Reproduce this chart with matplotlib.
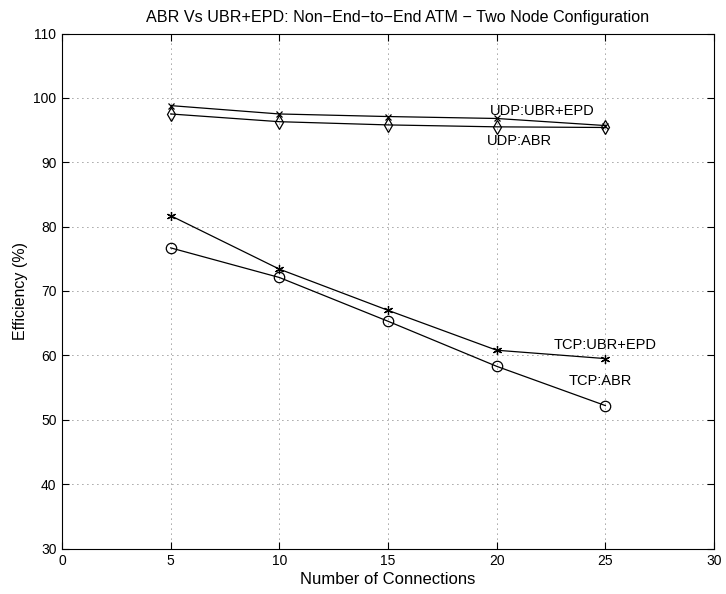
import matplotlib
matplotlib.use("Agg")
import matplotlib.pyplot as plt

plt.rcParams['font.family'] = ['Liberation Sans', 'DejaVu Sans']

connections = [5, 10, 15, 20, 25]
udp_ubr_epd = [98.8, 97.5, 97.1, 96.8, 95.7]
udp_abr = [97.5, 96.3, 95.8, 95.5, 95.4]
tcp_ubr_epd = [81.7, 73.4, 67.0, 60.8, 59.5]
tcp_abr = [76.7, 72.1, 65.3, 58.3, 52.2]

x_ticks = [0, 5, 10, 15, 20, 25, 30]
y_ticks = [30, 40, 50, 60, 70, 80, 90, 100, 110]

fig = plt.figure(figsize=(7.26, 5.94), dpi=100)
ax = fig.add_axes([62 / 726, 45.5 / 594, 652 / 726, 515 / 594])

line_kw = dict(color='black', linewidth=0.9, markerfacecolor='none',
               markeredgecolor='black', markeredgewidth=0.9)
ax.plot(connections, udp_ubr_epd, marker='x', markersize=5, **line_kw)
ax.plot(connections, udp_abr, marker='d', markersize=7.5, **line_kw)
ax.plot(connections, tcp_ubr_epd, marker=(6, 2, 0), markersize=6.5, **line_kw)
ax.plot(connections, tcp_abr, marker='o', markersize=7.5, **line_kw)

fs = 10.5
ax.text(19.7, 97.9, 'UDP:UBR+EPD', fontsize=fs, va='center', ha='left')
ax.text(19.55, 93.3, 'UDP:ABR', fontsize=fs, va='center', ha='left')
ax.text(22.6, 61.6, 'TCP:UBR+EPD', fontsize=fs, va='center', ha='left')
ax.text(23.3, 56.0, 'TCP:ABR', fontsize=fs, va='center', ha='left')

ax.set_xlim(0, 30)
ax.set_ylim(30, 110)
ax.set_xticks(x_ticks)
ax.set_yticks(y_ticks)
ax.tick_params(direction='in', length=5, width=0.8, top=True, right=True,
               labelsize=10, pad=4)
ax.grid(True, linestyle=(0, (1, 5)), color='#444444', linewidth=0.6)
for s in ax.spines.values():
    s.set_linewidth(0.8)

ax.set_xlabel('Number of Connections', fontsize=12, labelpad=3)
ax.set_ylabel('Efficiency (%)', fontsize=11.5, labelpad=4)
ax.set_title('ABR Vs UBR+EPD: Non\u2212End\u2212to\u2212End ATM \u2212 Two Node Configuration',
             fontsize=11.6, pad=8, x=0.515)

fig.savefig('out.png', dpi=100)
